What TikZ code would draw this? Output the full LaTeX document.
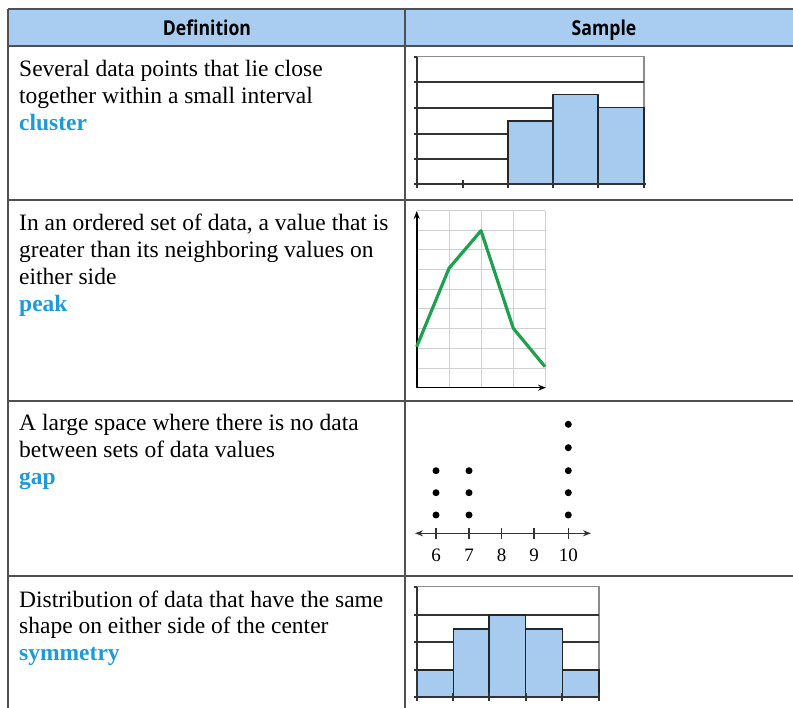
\documentclass[tikz,border=0pt]{standalone}
\usepackage{fontspec}
\setmainfont{Liberation Serif}
\newfontfamily\headfont[FakeStretch=0.86]{Open Sans}
\usetikzlibrary{arrows.meta}
\definecolor{headblue}{HTML}{A9CDF0}
\definecolor{barblue}{HTML}{A6CBEE}
\definecolor{termblue}{HTML}{1E9AD6}
\definecolor{rule}{HTML}{505050}
\definecolor{gridgray}{HTML}{CFCFCF}
\definecolor{peakgreen}{HTML}{1FA050}
\newcommand\deftext[1]{{\fontsize{23.5}{26.7}\selectfont\begin{tabular}[t]{@{}l@{}}#1\end{tabular}}}
\newcommand\term[1]{\textcolor{termblue}{\bfseries #1}}
\tikzset{
  tablerule/.style={draw=rule, line width=1.6pt},
  headrule/.style={draw=rule, line width=2.4pt},
  deflabel/.style={anchor=base west, inner sep=0pt},
  headlabel/.style={inner sep=0pt, anchor=base, font=\headfont\bfseries\fontsize{20.5}{22}\selectfont},
  bar/.style={fill=barblue, draw=black!85, line width=1.2pt},
  chartline/.style={draw=black!80, line width=1.7pt},
  chartframe/.style={draw=black!45, line width=1.2pt},
  grid2/.style={draw=gridgray, line width=1pt},
  axis/.style={draw=black, line width=1.6pt, -{Stealth[length=8pt,width=6pt]}},
  dot/.style={circle, fill=black, inner sep=0pt, minimum size=7pt},
  ticklabel/.style={inner sep=0pt, anchor=base, font=\fontsize{19}{21}\selectfont},
}
\begin{document}
\begin{tikzpicture}[x=1pt,y=-1pt]
\useasboundingbox (0,0) rectangle (793,708);
% header
\fill[headblue] (8,9) rectangle (793,46);
\draw[headrule] (8,9) -- (793,9);
\draw[headrule] (8,46) -- (793,46);
\node[headlabel] (hdef) at (207,36) {Definition};
\node[headlabel] (hsam) at (604,36) {Sample};
% table rules
\draw[tablerule] (8,9) -- (8,708);
\draw[tablerule] (405,9) -- (405,708);
\draw[tablerule] (8,200) -- (793,200);
\draw[tablerule] (8,401) -- (793,401);
\draw[tablerule] (8,576) -- (793,576);
% definitions
\node[deflabel] (d1) at (19,77) {\deftext{Several data points that lie close\\together within a small interval\\\term{cluster}}};
\node[deflabel] (d2) at (19,231) {\deftext{In an ordered set of data, a value that is\\greater than its neighboring values on\\either side\\\term{peak}}};
\node[deflabel] (d3) at (19,431) {\deftext{A large space where there is no data\\between sets of data values\\\term{gap}}};
\node[deflabel] (d4) at (19,607) {\deftext{Distribution of data that have the same\\shape on either side of the center\\\term{symmetry}}};
% ---- sample 1: cluster histogram
\draw[chartframe] (417,56.7) -- (644,56.7) -- (644,107.7);
\draw[chartline] (417,82.3) -- (644,82.3);
\draw[chartline] (417,107.7) -- (553,107.7);
\draw[chartline] (417,134.3) -- (508,134.3);
\draw[chartline] (417,159.3) -- (508,159.3);
\draw[bar] (508,184.3) rectangle (553,121);
\draw[bar] (553,184.3) rectangle (598,94.3);
\draw[bar] (598,184.3) rectangle (644,107.7);
\draw[chartline] (417,56.7) -- (417,184.3);
\foreach \yy in {56.7,82.3,107.7,134.3,159.3,184.3} \draw[chartline] (413.5,\yy) -- (417,\yy);
\draw[chartline] (415,184.3) -- (646,184.3);
\foreach \xx in {417,462.7,508,553,598,644} \draw[chartline] (\xx,180) -- (\xx,188);
% ---- sample 2: peak line graph
\foreach \xx in {449,481,513.3,545} \draw[grid2] (\xx,211) -- (\xx,387.7);
\foreach \yy in {211,230.7,250,270,289.3,309,328.3,348.3,368.3} \draw[grid2] (416.7,\yy) -- (545,\yy);
\draw[axis] (416.7,387.7) -- (416.7,211);
\draw[axis] (416.7,387.7) -- (546,387.7);
\draw[draw=peakgreen, line width=3.2pt, line join=round] (416.7,346.7) -- (449,268.3) -- (481,230.7) -- (513.3,328.3) -- (545,366.7);
% ---- sample 3: gap dot plot
\draw[draw=black!80, line width=1.3pt, {Stealth[length=8pt,width=6pt]}-{Stealth[length=8pt,width=6pt]}] (415,533.3) -- (591,533.3);
\foreach \xx/\lab in {436/6,469/7,501.7/8,534/9,568.3/10} {
  \draw[draw=black!80, line width=1.3pt] (\xx,528) -- (\xx,539);
  \node[ticklabel] (t\lab) at (\xx,561.5) {\lab};
}
\foreach \yy [count=\i] in {515,492.7,470.7} {
  \node[dot] (a\i) at (436,\yy) {};
  \node[dot] (b\i) at (469,\yy) {};
}
\foreach \yy [count=\i] in {515,492.7,470.7,447.7,424.3} \node[dot] (c\i) at (568.3,\yy) {};
% ---- sample 4: symmetric histogram
\draw[chartframe] (417.3,586.7) -- (599,586.7) -- (599,696.7);
\draw[chartline] (417.3,615) -- (489,615);
\draw[chartline] (525.7,615) -- (599,615);
\draw[chartline] (417.3,641.7) -- (453.3,641.7);
\draw[chartline] (562.3,641.7) -- (599,641.7);
\draw[bar] (417.3,696.7) rectangle (453.3,670);
\draw[bar] (453.3,696.7) rectangle (489,629);
\draw[bar] (489,696.7) rectangle (525.7,615);
\draw[bar] (525.7,696.7) rectangle (562.3,629);
\draw[bar] (562.3,696.7) rectangle (599,670);
\draw[chartline] (417.3,586.7) -- (417.3,696.7);
\foreach \yy in {586.7,615,641.7,670,696.7} \draw[chartline] (414,\yy) -- (417.3,\yy);
\draw[chartline] (415,696.7) -- (600,696.7);
\foreach \xx in {417.3,453.3,489,525.7,562.3,599} \draw[chartline] (\xx,693) -- (\xx,700.5);
\end{tikzpicture}
\end{document}
